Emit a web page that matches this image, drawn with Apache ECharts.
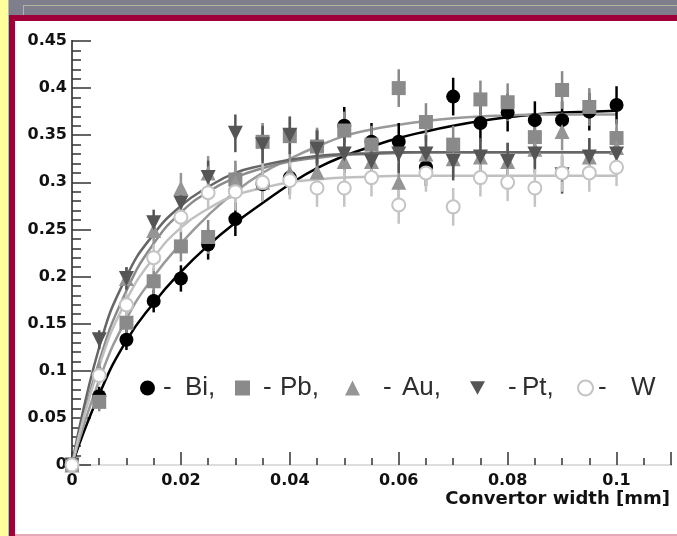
<!DOCTYPE html>
<html>
<head>
<meta charset="utf-8">
<script src="https://cdn.jsdelivr.net/npm/echarts@6/dist/echarts.min.js"></script>
<style>
  html, body { margin: 0; padding: 0; background: #ffffff; }
  #page { position: relative; width: 677px; height: 536px; overflow: hidden; background: #ffffff; }
  .deco { position: absolute; }
  #chart { position: absolute; left: 0; top: 0; width: 677px; height: 536px; }
</style>
</head>
<body>
<div id="page">
  <div class="deco" style="left:0;top:0;width:8px;height:536px;background:#ffff9c;"></div>
  <div class="deco" style="left:8px;top:0;width:1px;height:536px;background:#b8b8a8;"></div>
  <div class="deco" style="left:9px;top:0;width:668px;height:15px;background:#7e7e8c;"></div>
  <div class="deco" style="left:23px;top:5px;width:654px;height:10px;border-left:1px solid #b4b49c;border-top:1px solid #b4b49c;box-sizing:border-box;"></div>
  <div class="deco" style="left:9px;top:15px;width:668px;height:6px;background:#a0003a;"></div>
  <div class="deco" style="left:9px;top:15px;width:6px;height:521px;background:#a0003a;"></div>
  <div class="deco" style="left:15px;top:534px;width:662px;height:2px;background:#e4a8b8;"></div>
  <div id="chart"></div>
</div>
<script>
// x positions of measured points (mm)
var xPoints = [0, 0.005, 0.01, 0.015, 0.02, 0.025, 0.03, 0.035, 0.04, 0.045, 0.05,
               0.055, 0.06, 0.065, 0.07, 0.075, 0.08, 0.085, 0.09, 0.095, 0.1];

var biValues = [0, 0.073, 0.133, 0.174, 0.198, 0.234, 0.261, 0.298, 0.305, 0.338, 0.360,
                0.343, 0.343, 0.316, 0.391, 0.363, 0.374, 0.366, 0.366, 0.375, 0.382];
var biErrors = [0.004, 0.01, 0.011, 0.012, 0.014, 0.016, 0.018, 0.018, 0.018, 0.018, 0.02,
                0.02, 0.02, 0.02, 0.02, 0.02, 0.02, 0.02, 0.02, 0.02, 0.02];

var pbValues = [0, 0.067, 0.151, 0.195, 0.232, 0.242, 0.303, 0.343, 0.349, 0.338, 0.355,
                0.340, 0.400, 0.364, 0.340, 0.388, 0.385, 0.348, 0.398, 0.380, 0.347];
var pbErrors = [0.004, 0.01, 0.012, 0.014, 0.016, 0.018, 0.02, 0.02, 0.02, 0.02, 0.02,
                0.02, 0.02, 0.02, 0.02, 0.02, 0.02, 0.02, 0.02, 0.02, 0.02];

var auValues = [0, 0.100, 0.198, 0.249, 0.294, 0.310, 0.300, 0.300, 0.310, 0.311, 0.322,
                0.322, 0.300, 0.330, 0.325, 0.327, 0.322, 0.335, 0.354, 0.327, 0.337];
var auErrors = [0.004, 0.01, 0.012, 0.014, 0.016, 0.018, 0.02, 0.02, 0.02, 0.02, 0.02,
                0.02, 0.02, 0.02, 0.02, 0.02, 0.02, 0.02, 0.02, 0.02, 0.02];

var ptValues = [0, 0.133, 0.198, 0.257, 0.278, 0.305, 0.352, 0.340, 0.350, 0.335, 0.330,
                0.322, 0.330, 0.330, 0.322, 0.327, 0.322, 0.330, 0.308, 0.327, 0.330];
var ptErrors = [0.004, 0.01, 0.012, 0.014, 0.016, 0.018, 0.02, 0.02, 0.02, 0.02, 0.02,
                0.02, 0.02, 0.02, 0.02, 0.02, 0.02, 0.02, 0.02, 0.02, 0.02];

var wValues = [0, 0.095, 0.170, 0.220, 0.263, 0.289, 0.290, 0.300, 0.302, 0.294, 0.294,
               0.305, 0.276, 0.310, 0.274, 0.305, 0.300, 0.294, 0.310, 0.310, 0.316];
var wErrors = [0.004, 0.01, 0.012, 0.014, 0.016, 0.018, 0.02, 0.02, 0.02, 0.02, 0.02,
               0.02, 0.02, 0.02, 0.02, 0.02, 0.02, 0.02, 0.02, 0.02, 0.02];

// fitted curves at every 0.005 mm
var fitX  = xPoints;
var biFit = [0, 0.075, 0.132, 0.172, 0.205, 0.233, 0.257, 0.278, 0.298, 0.315, 0.328,
             0.338, 0.347, 0.354, 0.360, 0.365, 0.369, 0.372, 0.374, 0.375, 0.376];
var pbFit = [0, 0.090, 0.155, 0.200, 0.235, 0.265, 0.290, 0.310, 0.325, 0.338, 0.349,
             0.356, 0.361, 0.365, 0.368, 0.370, 0.371, 0.372, 0.372, 0.372, 0.372];
var auFit = [0, 0.110, 0.185, 0.235, 0.268, 0.290, 0.305, 0.315, 0.322, 0.326, 0.329,
             0.330, 0.331, 0.332, 0.332, 0.332, 0.332, 0.332, 0.332, 0.332, 0.332];
var ptFit = [0, 0.125, 0.200, 0.245, 0.275, 0.295, 0.310, 0.318, 0.324, 0.328, 0.330,
             0.331, 0.332, 0.332, 0.332, 0.332, 0.332, 0.332, 0.332, 0.332, 0.332];
var wFit  = [0, 0.105, 0.175, 0.220, 0.252, 0.272, 0.286, 0.294, 0.300, 0.303, 0.305,
             0.306, 0.307, 0.307, 0.307, 0.307, 0.307, 0.307, 0.307, 0.307, 0.307];

var legendLabels = ['Bi,', 'Pb,', 'Au,', 'Pt,', 'W'];
var xTitle = 'Convertor width [mm]';

var elements = [
  { name: 'Bi', values: biValues, errors: biErrors, fit: biFit, symbol: 'circle', size: 14, color: '#000000', fitColor: '#000000' },
  { name: 'Pb', values: pbValues, errors: pbErrors, fit: pbFit, symbol: 'rect', size: 14, color: '#8a8a8a', fitColor: '#9a9a9a' },
  { name: 'Au', values: auValues, errors: auErrors, fit: auFit, symbol: 'triangle', size: 15, color: '#959595', fitColor: '#8a8a8a' },
  { name: 'Pt', values: ptValues, errors: ptErrors, fit: ptFit, symbol: 'path://M0,0L20,0L10,18Z', size: 15, color: '#555555', fitColor: '#666666' },
  { name: 'W',  values: wValues,  errors: wErrors,  fit: wFit,  symbol: 'emptyCircle', size: 13, color: '#c4c4c4', fitColor: '#c0c0c0' }
];

// legend layout per entry: [icon left, pad before hyphen, hyphen box width]
var legendBoxes = [[140, 3, 22], [235, 8, 17], [345, 18, 19], [470, 18, 14], [577, 0, 33]];

function zip(xs, ys) { return xs.map(function (x, i) { return [x, ys[i]]; }); }
function zip3(xs, ys, es) { return xs.map(function (x, i) { return [x, ys[i], es[i]]; }); }

var series = [];
elements.forEach(function (el) {
  series.push({
    name: el.name + ' fit', type: 'line', data: zip(fitX, el.fit), smooth: 0.5,
    symbol: 'none', silent: true, z: 2,
    lineStyle: { color: el.fitColor, width: 2.5 }
  });
});
elements.forEach(function (el) {
  series.push({
    name: el.name + ' err', type: 'custom', data: zip3(xPoints, el.values, el.errors), z: 3, silent: true,
    renderItem: function (params, api) {
      var x = api.value(0), y = api.value(1), e = api.value(2);
      var a = api.coord([x, y + e]), b = api.coord([x, y - e]);
      return { type: 'line', shape: { x1: a[0], y1: a[1], x2: b[0], y2: b[1] },
               style: { stroke: el.color, lineWidth: 2.5 } };
    }
  });
});
elements.forEach(function (el) {
  series.push({
    name: el.name, type: 'scatter', data: zip(xPoints, el.values), z: 4,
    symbol: el.symbol, symbolSize: el.size,
    itemStyle: el.symbol === 'emptyCircle'
      ? { color: el.color, borderColor: el.color, borderWidth: 2.5, opacity: 1 }
      : { color: el.color, opacity: 1 }
  });
});

var legendFont = { fontFamily: 'Liberation Sans', fontSize: 26, color: '#2e2e2e' };
var legends = elements.map(function (el, i) {
  var b = legendBoxes[i];
  var rich = {
    p: Object.assign({ width: b[1] }, legendFont),
    h: Object.assign({ width: b[2] }, legendFont),
    n: Object.assign({}, legendFont)
  };
  return {
    left: b[0], top: 375, padding: 0, orient: 'horizontal', itemWidth: 15, itemHeight: 15,
    selectedMode: false,
    textStyle: Object.assign({ rich: rich }, legendFont),
    formatter: function () {
      return (b[1] > 0 ? '{p| }' : '') + '{h|-}' + '{n|' + legendLabels[i] + '}';
    },
    data: [{ name: el.name, icon: el.symbol }]
  };
});

var chart = echarts.init(document.getElementById('chart'), null, { renderer: 'canvas' });
chart.setOption({
  animation: false,
  backgroundColor: 'transparent',
  grid: { left: 72, top: 41, width: 599, height: 424, containLabel: false },
  legend: legends,
  graphic: [{
    type: 'text', right: 7, top: 490,
    style: { text: xTitle, fontFamily: 'DejaVu Sans', fontWeight: 'bold', fontSize: 18, fill: '#111111' }
  }],
  xAxis: [{
    type: 'value', min: 0, max: 0.11, interval: 0.02, position: 'bottom',
    axisLine: { show: true, onZero: false, lineStyle: { color: '#333333', width: 2 } },
    axisTick: { show: true, inside: true, length: 13, lineStyle: { color: '#333333', width: 1.5 } },
    minorTick: { show: true, splitNumber: 4, length: 7, lineStyle: { color: '#333333', width: 1.5 } },
    axisLabel: { showMaxLabel: false, margin: 8, fontFamily: 'DejaVu Sans', fontWeight: 'bold', fontSize: 16, color: '#111111' },
    splitLine: { show: false }
  }, {
    type: 'value', min: 0, max: 0.11, position: 'top',
    axisLine: { show: true, lineStyle: { color: '#dddddd', width: 2 } },
    axisTick: { show: false }, axisLabel: { show: false }, splitLine: { show: false }
  }],
  yAxis: [{
    type: 'value', min: 0, max: 0.45, interval: 0.05, position: 'left',
    axisLine: { show: true, onZero: false, lineStyle: { color: '#333333', width: 2 } },
    axisTick: { show: true, inside: true, length: 19, lineStyle: { color: '#333333', width: 1.5 } },
    minorTick: { show: true, splitNumber: 5, length: 9, lineStyle: { color: '#333333', width: 1.5 } },
    axisLabel: { margin: 5, fontFamily: 'DejaVu Sans', fontWeight: 'bold', fontSize: 16, color: '#111111' },
    splitLine: { show: false }
  }, {
    type: 'value', min: 0, max: 0.45, position: 'right',
    axisLine: { show: true, lineStyle: { color: '#555555', width: 2 } },
    axisTick: { show: false }, axisLabel: { show: false }, splitLine: { show: false }
  }],
  series: series
});
</script>
</body>
</html>
